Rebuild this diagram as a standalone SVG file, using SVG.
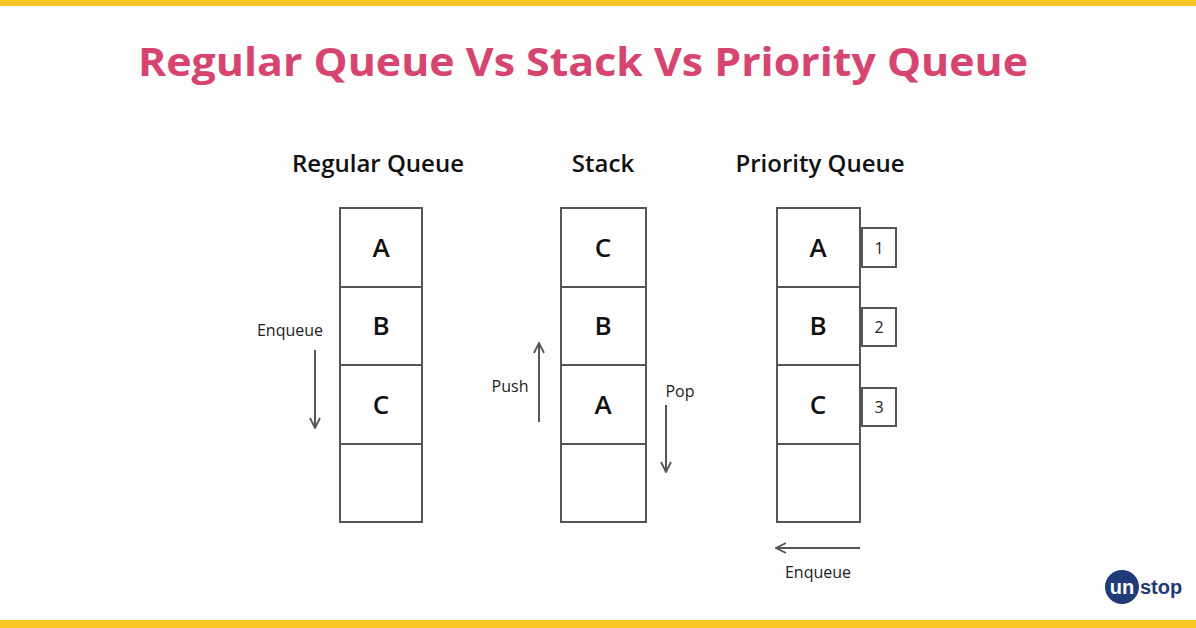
<svg xmlns="http://www.w3.org/2000/svg" width="1196" height="628" viewBox="0 0 1196 628">
<style>
.cell{fill:#fff;stroke:#555;stroke-width:2}
.lbl{font-family:"Open Sans","Liberation Sans",sans-serif;font-size:26px;font-weight:600;fill:#111;text-anchor:middle}
.hd{font-family:"Open Sans","Liberation Sans",sans-serif;font-size:24px;font-weight:600;fill:#111;text-anchor:middle}
.sm{font-family:"Open Sans","Liberation Sans",sans-serif;font-size:16px;fill:#222;text-anchor:middle}
.arr{stroke:#555;stroke-width:2;fill:none}
</style>
<defs><marker id="ah" viewBox="0 0 12 12" refX="11" refY="6" markerWidth="12" markerHeight="12" markerUnits="userSpaceOnUse" orient="auto"><path d="M1,1 L11,6 L1,11" fill="none" stroke="#555" stroke-width="1.8"/></marker></defs>
<rect width="1196" height="628" fill="#fdfdfd"/>
<rect width="1196" height="6" fill="#f9c623"/>
<rect y="620" width="1196" height="8" fill="#f9c623"/>
<text x="583" y="76" font-family="'Open Sans','Liberation Sans',sans-serif" font-size="40" font-weight="700" fill="#d6456f" text-anchor="middle" textLength="890" lengthAdjust="spacingAndGlyphs">Regular Queue Vs Stack Vs Priority Queue</text>
<g id="regular">
<text class="hd" x="378" y="172">Regular Queue</text>
<rect class="cell" x="340" y="208" width="82" height="79"/><rect class="cell" x="340" y="287" width="82" height="78"/><rect class="cell" x="340" y="365" width="82" height="79"/><rect class="cell" x="340" y="444" width="82" height="78"/>
<text class="lbl" x="381" y="257">A</text><text class="lbl" x="381" y="335">B</text><text class="lbl" x="381" y="414">C</text>
<text class="sm" x="290" y="336">Enqueue</text>
</g>
<g id="stack">
<text class="hd" x="603" y="172">Stack</text>
<rect class="cell" x="561" y="208" width="85" height="79"/><rect class="cell" x="561" y="287" width="85" height="78"/><rect class="cell" x="561" y="365" width="85" height="79"/><rect class="cell" x="561" y="444" width="85" height="78"/>
<text class="lbl" x="603" y="257">C</text><text class="lbl" x="603" y="335">B</text><text class="lbl" x="603" y="414">A</text>
<text class="sm" x="510" y="392">Push</text><text class="sm" x="680" y="397">Pop</text>
</g>
<g id="priority">
<text class="hd" x="820" y="172">Priority Queue</text>
<rect class="cell" x="777" y="208" width="83" height="79"/><rect class="cell" x="777" y="287" width="83" height="78"/><rect class="cell" x="777" y="365" width="83" height="79"/><rect class="cell" x="777" y="444" width="83" height="78"/>
<text class="lbl" x="818" y="257">A</text><text class="lbl" x="818" y="335">B</text><text class="lbl" x="818" y="414">C</text>
<rect class="cell" x="862" y="228" width="34" height="39"/><rect class="cell" x="862" y="308" width="34" height="38"/><rect class="cell" x="862" y="388" width="34" height="38"/>
<text class="sm" x="879" y="254">1</text><text class="sm" x="879" y="333">2</text><text class="sm" x="879" y="413">3</text>
<text class="sm" x="818" y="578">Enqueue</text>
</g>
<g id="connectors">
<line class="arr" x1="315" y1="350" x2="315" y2="428" marker-end="url(#ah)"/>
<line class="arr" x1="539" y1="422" x2="539" y2="343" marker-end="url(#ah)"/>
<line class="arr" x1="666" y1="405" x2="666" y2="472" marker-end="url(#ah)"/>
<line class="arr" x1="860" y1="548" x2="776" y2="548" marker-end="url(#ah)"/>
</g>
<g id="logo">
<circle cx="1122" cy="587" r="17" fill="#1f3b78"/>
<text x="1122" y="594" font-family="'Liberation Sans',sans-serif" font-size="20" font-weight="700" fill="#fff" text-anchor="middle">un</text>
<text x="1140" y="594" font-family="'Liberation Sans',sans-serif" font-size="20" font-weight="700" fill="#1f3b78">stop</text>
</g>
</svg>
